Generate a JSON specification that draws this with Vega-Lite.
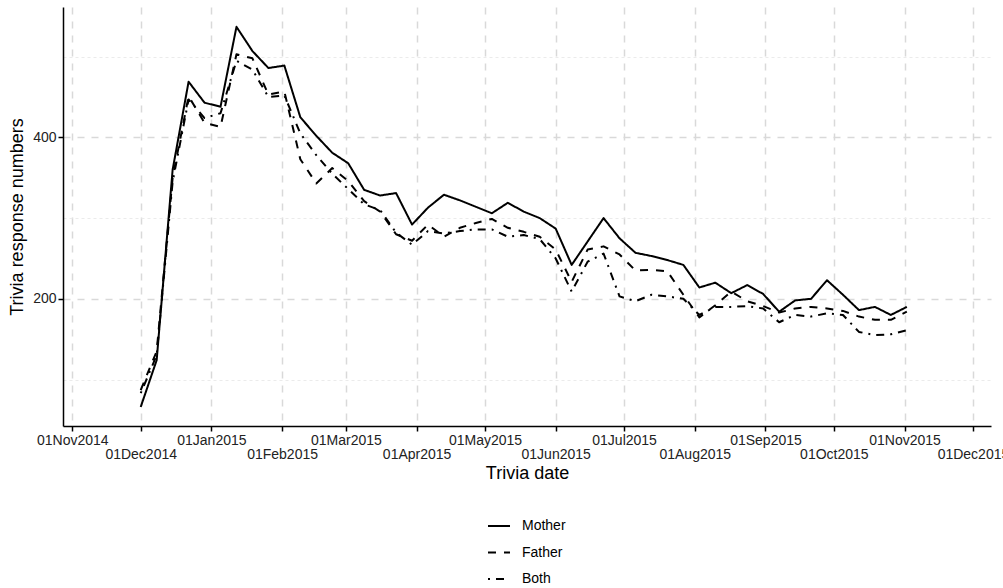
{
 "$schema": "https://vega.github.io/schema/vega-lite/v6.json",
 "width": 928,
 "height": 419,
 "autosize": {"type": "none"},
 "padding": {"left": 63, "top": 7, "right": 12, "bottom": 162},
 "background": "white",
 "config": {"view": {"stroke": null}, "font": "Liberation Sans"},
 "data": {"values": [
  {"date":"2014-12-01","parent":"Mother","value":66},
  {"date":"2014-12-08","parent":"Mother","value":124},
  {"date":"2014-12-15","parent":"Mother","value":360},
  {"date":"2014-12-22","parent":"Mother","value":469},
  {"date":"2014-12-29","parent":"Mother","value":443},
  {"date":"2015-01-05","parent":"Mother","value":438},
  {"date":"2015-01-12","parent":"Mother","value":537},
  {"date":"2015-01-19","parent":"Mother","value":507},
  {"date":"2015-01-26","parent":"Mother","value":486},
  {"date":"2015-02-02","parent":"Mother","value":489},
  {"date":"2015-02-09","parent":"Mother","value":425},
  {"date":"2015-02-16","parent":"Mother","value":402},
  {"date":"2015-02-23","parent":"Mother","value":381},
  {"date":"2015-03-02","parent":"Mother","value":368},
  {"date":"2015-03-09","parent":"Mother","value":335},
  {"date":"2015-03-16","parent":"Mother","value":328},
  {"date":"2015-03-23","parent":"Mother","value":331},
  {"date":"2015-03-30","parent":"Mother","value":292},
  {"date":"2015-04-06","parent":"Mother","value":313},
  {"date":"2015-04-13","parent":"Mother","value":329},
  {"date":"2015-04-20","parent":"Mother","value":322},
  {"date":"2015-04-27","parent":"Mother","value":314},
  {"date":"2015-05-04","parent":"Mother","value":306},
  {"date":"2015-05-11","parent":"Mother","value":319},
  {"date":"2015-05-18","parent":"Mother","value":308},
  {"date":"2015-05-25","parent":"Mother","value":300},
  {"date":"2015-06-01","parent":"Mother","value":287},
  {"date":"2015-06-08","parent":"Mother","value":242},
  {"date":"2015-06-15","parent":"Mother","value":271},
  {"date":"2015-06-22","parent":"Mother","value":300},
  {"date":"2015-06-29","parent":"Mother","value":275},
  {"date":"2015-07-06","parent":"Mother","value":257},
  {"date":"2015-07-13","parent":"Mother","value":253},
  {"date":"2015-07-20","parent":"Mother","value":248},
  {"date":"2015-07-27","parent":"Mother","value":242},
  {"date":"2015-08-03","parent":"Mother","value":214},
  {"date":"2015-08-10","parent":"Mother","value":220},
  {"date":"2015-08-17","parent":"Mother","value":207},
  {"date":"2015-08-24","parent":"Mother","value":217},
  {"date":"2015-08-31","parent":"Mother","value":206},
  {"date":"2015-09-07","parent":"Mother","value":184},
  {"date":"2015-09-14","parent":"Mother","value":198},
  {"date":"2015-09-21","parent":"Mother","value":200},
  {"date":"2015-09-28","parent":"Mother","value":223},
  {"date":"2015-10-05","parent":"Mother","value":205},
  {"date":"2015-10-12","parent":"Mother","value":186},
  {"date":"2015-10-19","parent":"Mother","value":190},
  {"date":"2015-10-26","parent":"Mother","value":180},
  {"date":"2015-11-02","parent":"Mother","value":190},
  {"date":"2014-12-01","parent":"Father","value":87},
  {"date":"2014-12-08","parent":"Father","value":135},
  {"date":"2014-12-15","parent":"Father","value":350},
  {"date":"2014-12-22","parent":"Father","value":451},
  {"date":"2014-12-29","parent":"Father","value":418},
  {"date":"2015-01-05","parent":"Father","value":413},
  {"date":"2015-01-12","parent":"Father","value":503},
  {"date":"2015-01-19","parent":"Father","value":498},
  {"date":"2015-01-26","parent":"Father","value":453},
  {"date":"2015-02-02","parent":"Father","value":457},
  {"date":"2015-02-09","parent":"Father","value":373},
  {"date":"2015-02-16","parent":"Father","value":343},
  {"date":"2015-02-23","parent":"Father","value":362},
  {"date":"2015-03-02","parent":"Father","value":346},
  {"date":"2015-03-09","parent":"Father","value":321},
  {"date":"2015-03-16","parent":"Father","value":308},
  {"date":"2015-03-23","parent":"Father","value":280},
  {"date":"2015-03-30","parent":"Father","value":272},
  {"date":"2015-04-06","parent":"Father","value":292},
  {"date":"2015-04-13","parent":"Father","value":277},
  {"date":"2015-04-20","parent":"Father","value":288},
  {"date":"2015-04-27","parent":"Father","value":294},
  {"date":"2015-05-04","parent":"Father","value":299},
  {"date":"2015-05-11","parent":"Father","value":288},
  {"date":"2015-05-18","parent":"Father","value":283},
  {"date":"2015-05-25","parent":"Father","value":277},
  {"date":"2015-06-01","parent":"Father","value":261},
  {"date":"2015-06-08","parent":"Father","value":221},
  {"date":"2015-06-15","parent":"Father","value":261},
  {"date":"2015-06-22","parent":"Father","value":265},
  {"date":"2015-06-29","parent":"Father","value":255},
  {"date":"2015-07-06","parent":"Father","value":235},
  {"date":"2015-07-13","parent":"Father","value":236},
  {"date":"2015-07-20","parent":"Father","value":234},
  {"date":"2015-07-27","parent":"Father","value":205},
  {"date":"2015-08-03","parent":"Father","value":177},
  {"date":"2015-08-10","parent":"Father","value":192},
  {"date":"2015-08-17","parent":"Father","value":209},
  {"date":"2015-08-24","parent":"Father","value":197},
  {"date":"2015-08-31","parent":"Father","value":191},
  {"date":"2015-09-07","parent":"Father","value":183},
  {"date":"2015-09-14","parent":"Father","value":188},
  {"date":"2015-09-21","parent":"Father","value":190},
  {"date":"2015-09-28","parent":"Father","value":188},
  {"date":"2015-10-05","parent":"Father","value":185},
  {"date":"2015-10-12","parent":"Father","value":178},
  {"date":"2015-10-19","parent":"Father","value":174},
  {"date":"2015-10-26","parent":"Father","value":174},
  {"date":"2015-11-02","parent":"Father","value":184},
  {"date":"2014-12-01","parent":"Both","value":83},
  {"date":"2014-12-08","parent":"Both","value":130},
  {"date":"2014-12-15","parent":"Both","value":345},
  {"date":"2014-12-22","parent":"Both","value":447},
  {"date":"2014-12-29","parent":"Both","value":424},
  {"date":"2015-01-05","parent":"Both","value":430},
  {"date":"2015-01-12","parent":"Both","value":495},
  {"date":"2015-01-19","parent":"Both","value":484},
  {"date":"2015-01-26","parent":"Both","value":450},
  {"date":"2015-02-02","parent":"Both","value":452},
  {"date":"2015-02-09","parent":"Both","value":405},
  {"date":"2015-02-16","parent":"Both","value":378},
  {"date":"2015-02-23","parent":"Both","value":355},
  {"date":"2015-03-02","parent":"Both","value":336},
  {"date":"2015-03-09","parent":"Both","value":317},
  {"date":"2015-03-16","parent":"Both","value":310},
  {"date":"2015-03-23","parent":"Both","value":282},
  {"date":"2015-03-30","parent":"Both","value":267},
  {"date":"2015-04-06","parent":"Both","value":284},
  {"date":"2015-04-13","parent":"Both","value":281},
  {"date":"2015-04-20","parent":"Both","value":284},
  {"date":"2015-04-27","parent":"Both","value":286},
  {"date":"2015-05-04","parent":"Both","value":286},
  {"date":"2015-05-11","parent":"Both","value":277},
  {"date":"2015-05-18","parent":"Both","value":279},
  {"date":"2015-05-25","parent":"Both","value":274},
  {"date":"2015-06-01","parent":"Both","value":250},
  {"date":"2015-06-08","parent":"Both","value":209},
  {"date":"2015-06-15","parent":"Both","value":246},
  {"date":"2015-06-22","parent":"Both","value":256},
  {"date":"2015-06-29","parent":"Both","value":203},
  {"date":"2015-07-06","parent":"Both","value":197},
  {"date":"2015-07-13","parent":"Both","value":205},
  {"date":"2015-07-20","parent":"Both","value":203},
  {"date":"2015-07-27","parent":"Both","value":200},
  {"date":"2015-08-03","parent":"Both","value":180},
  {"date":"2015-08-10","parent":"Both","value":190},
  {"date":"2015-08-17","parent":"Both","value":190},
  {"date":"2015-08-24","parent":"Both","value":191},
  {"date":"2015-08-31","parent":"Both","value":188},
  {"date":"2015-09-07","parent":"Both","value":171},
  {"date":"2015-09-14","parent":"Both","value":180},
  {"date":"2015-09-21","parent":"Both","value":178},
  {"date":"2015-09-28","parent":"Both","value":182},
  {"date":"2015-10-05","parent":"Both","value":180},
  {"date":"2015-10-12","parent":"Both","value":159},
  {"date":"2015-10-19","parent":"Both","value":155},
  {"date":"2015-10-26","parent":"Both","value":156},
  {"date":"2015-11-02","parent":"Both","value":161}
 ]},
 "mark": {"type": "line", "strokeWidth": 2, "color": "black", "strokeCap": "butt", "strokeJoin": "round"},
 "encoding": {
  "x": {
   "field": "date", "type": "temporal",
   "scale": {"type": "utc", "domain": [
     {"year": 2014, "month": "oct", "date": 27, "hours": 22, "utc": true},
     {"year": 2015, "month": "dec", "date": 8, "hours": 22, "utc": true}]},
   "axis": {
    "title": "Trivia date",
    "values": [
     {"year": 2014, "month": "nov", "date": 1, "utc": true},
     {"year": 2014, "month": "dec", "date": 1, "utc": true},
     {"year": 2015, "month": "jan", "date": 1, "utc": true},
     {"year": 2015, "month": "feb", "date": 1, "utc": true},
     {"year": 2015, "month": "mar", "date": 1, "utc": true},
     {"year": 2015, "month": "apr", "date": 1, "utc": true},
     {"year": 2015, "month": "may", "date": 1, "utc": true},
     {"year": 2015, "month": "jun", "date": 1, "utc": true},
     {"year": 2015, "month": "jul", "date": 1, "utc": true},
     {"year": 2015, "month": "aug", "date": 1, "utc": true},
     {"year": 2015, "month": "sep", "date": 1, "utc": true},
     {"year": 2015, "month": "oct", "date": 1, "utc": true},
     {"year": 2015, "month": "nov", "date": 1, "utc": true},
     {"year": 2015, "month": "dec", "date": 1, "utc": true}],
    "labelExpr": "utcmonth(datum.value) % 2 == 1 ? ['', utcFormat(datum.value, '%d%b%Y')] : utcFormat(datum.value, '%d%b%Y')",
    "labelOverlap": false,
    "labelFontSize": 14,
    "labelColor": "#222222",
    "labelPadding": 2,
    "labelLineHeight": 14.5,
    "labelBaseline": "top",
    "labelFlush": false,
    "domainColor": "black", "domainWidth": 1.5,
    "tickColor": "black", "tickWidth": 1.5, "tickSize": 5,
    "grid": true, "gridColor": "#d9d9d9", "gridDash": [7, 7], "gridWidth": 1.5,
    "titleFontSize": 18, "titleFontWeight": "normal", "titleColor": "black", "titlePadding": 3
   }
  },
  "y": {
   "field": "value", "type": "quantitative",
   "scale": {"domain": [42.4, 561.6], "zero": false, "nice": false},
   "axis": {
    "title": "Trivia response numbers",
    "values": [100, 200, 300, 400, 500],
    "labelExpr": "datum.value % 200 == 0 ? datum.label : ''",
    "labelFontSize": 14, "labelColor": "#222222", "labelPadding": 2,
    "domainColor": "black", "domainWidth": 1.5,
    "tickColor": "black", "tickWidth": 1.5, "tickSize": 5,
    "tickOpacity": {"condition": {"test": "datum.value % 200 == 0", "value": 1}, "value": 0},
    "grid": true,
    "gridColor": {"condition": {"test": "datum.value % 200 == 0", "value": "#d9d9d9"}, "value": "#ebebeb"},
    "gridDash": {"condition": {"test": "datum.value % 200 == 0", "value": [7, 7]}, "value": [3, 3]},
    "gridWidth": {"condition": {"test": "datum.value % 200 == 0", "value": 1.5}, "value": 1},
    "titleFontSize": 18, "titleFontWeight": "normal", "titleColor": "black", "titlePadding": 6
   }
  },
  "strokeDash": {
   "field": "parent", "type": "nominal",
   "scale": {"domain": ["Mother", "Father", "Both"], "range": [[1, 0], [8, 8], [2, 6, 8, 6]]},
   "legend": {
    "title": null, "orient": "none", "legendX": 424, "legendY": 507,
    "direction": "vertical",
    "symbolType": "stroke", "symbolSize": 484, "symbolStrokeWidth": 2, "symbolStrokeColor": "black",
    "labelFontSize": 14, "labelColor": "black", "labelOffset": 11,
    "rowPadding": 7.5, "padding": 0
   }
  }
 }
}
